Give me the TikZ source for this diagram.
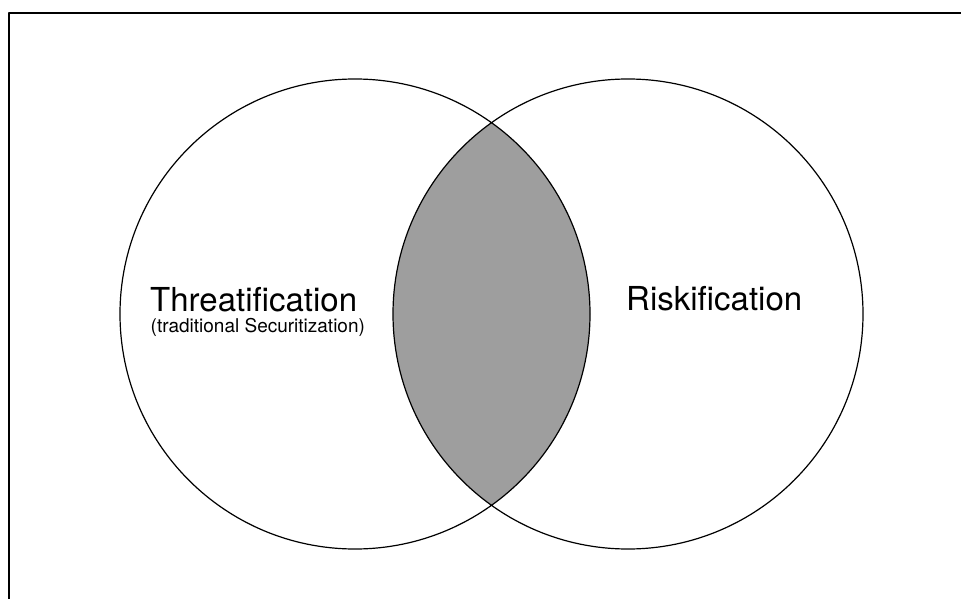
\documentclass[tikz,border=0pt]{standalone}
\usepackage{fontspec}
\setmainfont{TeX Gyre Heros}
\definecolor{lensgray}{RGB}{158,158,158}
\begin{document}
\begin{tikzpicture}[x=1pt,y=-1pt,line join=round,line cap=round]
	\def\r{235} \def\yc{314} % circles
	\def\xl{355} \def\xr{628}
	\useasboundingbox (0,0) rectangle (961,599);
	\draw[line width=1.1pt] (9,599)--(9,13)--(961,13);
	\begin{scope}
		\clip (\xl,\yc) circle(\r);
		\fill[lensgray] (\xr,\yc) circle(\r);
	\end{scope}
	\draw[line width=1.2pt] (\xl,\yc) circle(\r) (\xr,\yc) circle(\r);
	\node[anchor=base west,inner sep=0pt,font=\fontsize{33}{36}\selectfont] (threat) at (150,311) {Threatification};
	\node[anchor=base west,inner sep=0pt,font=\fontsize{19}{21}\selectfont] (trad) at (150.5,332.5) {(traditional Securitization)};
	\node[anchor=base west,inner sep=0pt,font=\fontsize{33}{36}\selectfont] (risk) at (626,310) {Riskification};
\end{tikzpicture}
\end{document}
